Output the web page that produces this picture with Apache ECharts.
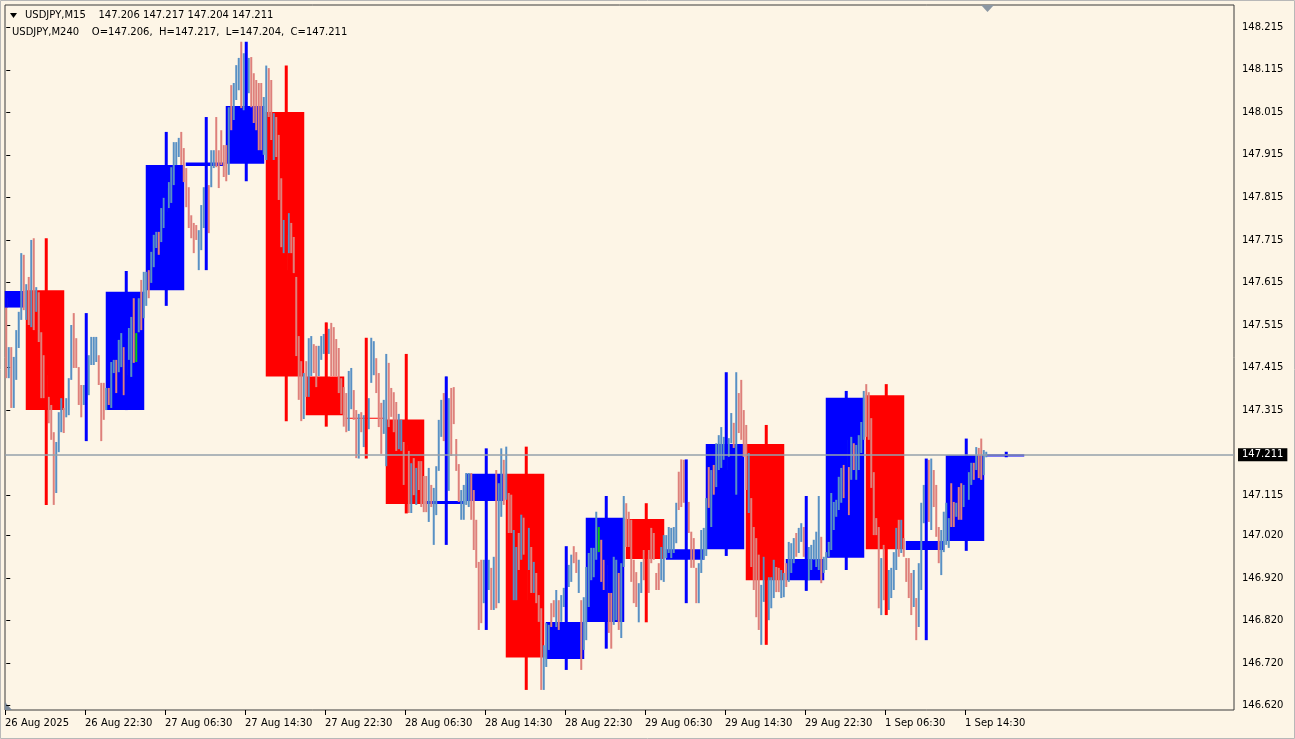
<!DOCTYPE html>
<html>
<head>
<meta charset="utf-8">
<script src="https://cdn.jsdelivr.net/npm/echarts@6.0.0/dist/echarts.min.js"></script>
<style>
html,body{margin:0;padding:0;background:#fdf5e6;}
#chart{width:1295px;height:739px;}
</style>
</head>
<body>
<div id="chart"></div>
<script>
// ---------------- DATA ----------------
// 4-hour (M240) candles, oldest first (first one is partly scrolled off the left edge)
const h4Open  = [147.556,147.597,147.315,147.315,147.597,147.889,147.894,148.016,147.394,147.297,147.293,147.094,147.101,147.165,146.730,146.817,147.059,146.963,146.988,147.235,146.915,146.968,147.350,146.986,147.007,147.206];
const h4High  = [147.595,147.719,147.543,147.642,147.969,148.004,148.181,148.125,147.521,147.485,147.447,147.394,147.225,147.229,146.995,147.113,147.096,147.199,147.404,147.280,147.113,147.360,147.376,147.201,147.248,147.217];
const h4Low   = [147.556,147.092,147.242,147.315,147.560,147.644,147.853,147.289,147.276,147.201,147.072,146.998,146.798,146.657,146.704,146.754,146.816,146.861,146.972,146.763,146.890,146.939,146.833,146.774,146.984,147.204];
const h4Close = [147.595,147.315,147.315,147.593,147.891,147.897,148.030,147.394,147.303,147.295,147.094,147.101,147.165,146.733,146.817,147.062,146.965,146.988,147.235,146.915,146.965,147.344,146.988,147.007,147.209,147.211];

// 15-minute (M15) bars, oldest first: highs, lows, direction (1 up, -1 down, 0 unchanged)
const m15High = [
147.578,147.463,147.463,147.440,147.503,147.546,147.684,147.680,
147.611,147.628,147.715,147.719,147.604,147.592,147.498,147.444,147.397,147.346,147.327,147.263,147.240,147.310,147.343,147.320,
147.343,147.390,147.515,147.543,147.484,147.416,147.374,147.374,147.409,147.444,147.487,147.487,147.487,147.444,147.379,147.379,
147.367,147.367,147.428,147.433,147.433,147.480,147.496,147.463,147.484,147.508,147.534,147.578,147.496,147.578,147.621,147.640,
147.640,147.644,147.687,147.727,147.734,147.734,147.790,147.814,147.837,147.851,147.886,147.945,147.945,147.955,147.969,147.931,
147.884,147.839,147.773,147.755,147.750,147.738,147.797,147.839,147.879,147.844,147.926,147.926,148.004,147.926,147.973,147.938,
147.938,148.027,148.079,148.084,148.126,148.143,148.181,148.154,148.138,148.143,148.145,148.107,148.091,148.084,148.084,148.051,
148.125,148.119,148.091,148.013,148.004,147.962,147.860,147.762,147.727,147.778,147.755,147.722,147.628,147.489,147.430,147.402,
147.430,147.484,147.489,147.470,147.466,147.466,147.489,147.494,147.521,147.506,147.520,147.510,147.482,147.461,147.390,147.369,
147.355,147.407,147.414,147.362,147.315,147.306,147.310,147.303,147.386,147.343,147.485,147.477,147.437,147.402,147.332,147.339,
147.447,147.426,147.367,147.357,147.334,147.306,147.292,147.240,147.233,147.219,147.190,147.202,147.179,147.195,147.195,147.160,
147.160,147.179,147.139,147.132,147.183,147.292,147.339,147.355,147.394,147.343,147.367,147.369,147.247,147.188,147.127,147.139,
147.167,147.167,147.167,147.127,147.057,146.958,146.963,146.963,147.010,146.963,146.944,146.970,147.174,147.143,147.225,147.198,
147.229,147.120,147.116,147.033,146.993,147.026,147.069,147.062,147.010,147.038,146.993,146.958,146.932,146.880,146.849,146.762,
146.814,146.810,146.861,146.868,146.892,146.868,146.880,146.897,146.963,146.951,146.975,146.995,146.981,146.963,146.868,146.875,
146.946,146.979,146.991,146.991,147.076,147.040,147.010,146.963,146.951,146.885,146.885,146.970,146.963,146.932,146.955,147.113,
147.096,147.076,147.057,146.963,146.934,146.908,146.958,146.986,146.975,146.986,147.038,147.026,146.932,146.955,146.993,147.021,
147.021,147.040,147.038,147.040,147.097,147.170,147.199,147.198,147.151,147.099,147.029,147.014,146.944,146.955,147.033,147.038,
147.108,147.181,147.174,147.186,147.237,147.256,147.275,147.252,147.292,147.249,147.308,147.285,147.404,147.355,147.386,147.315,
147.280,147.214,147.108,147.040,147.014,146.975,146.904,146.970,146.892,146.922,146.922,146.963,146.946,146.944,146.939,146.932,
146.955,147.005,147.002,147.014,147.026,147.038,147.049,147.040,147.010,146.993,146.998,147.010,147.029,147.113,147.017,146.970,
146.981,147.005,147.120,147.099,147.104,147.158,147.179,147.186,147.245,147.181,147.252,147.237,147.233,147.256,147.287,147.360,
147.376,147.357,147.296,147.169,147.061,147.040,146.967,146.998,146.963,146.939,146.944,146.981,147.038,147.057,147.057,147.014,
146.967,146.967,146.932,146.939,146.873,146.955,147.097,147.139,147.174,147.198,147.201,147.174,147.139,147.040,147.033,147.076,
147.097,147.061,147.143,147.099,147.097,147.134,147.143,147.139,147.174,147.169,147.191,147.191,147.228,147.226,147.248,147.221,
147.217];
const m15Low = [
147.390,147.390,147.320,147.320,147.386,147.461,147.527,147.550,
147.527,147.515,147.510,147.503,147.546,147.475,147.343,147.343,147.320,147.284,147.245,147.092,147.120,147.216,147.263,147.261,
147.298,147.303,147.386,147.414,147.414,147.327,147.298,147.327,147.339,147.350,147.421,147.421,147.428,147.374,147.242,147.292,
147.315,147.327,147.320,147.402,147.355,147.404,147.416,147.350,147.397,147.433,147.393,147.426,147.428,147.498,147.503,147.531,
147.560,147.578,147.614,147.651,147.696,147.680,147.710,147.743,147.781,147.790,147.802,147.844,147.891,147.910,147.891,147.851,
147.792,147.743,147.719,147.684,147.715,147.644,147.691,147.743,147.809,147.731,147.839,147.884,147.886,147.837,147.891,147.863,
147.853,147.868,147.973,147.997,148.044,148.067,148.025,148.020,148.044,148.060,148.027,147.990,147.973,147.926,147.926,147.915,
147.903,148.004,147.950,147.903,147.910,147.809,147.698,147.684,147.644,147.684,147.684,147.637,147.442,147.339,147.289,147.294,
147.346,147.346,147.395,147.402,147.369,147.395,147.433,147.447,147.433,147.447,147.395,147.395,147.395,147.355,147.306,147.276,
147.263,147.266,147.317,147.292,147.202,147.201,147.263,147.228,147.292,147.270,147.379,147.397,147.355,147.275,147.212,147.259,
147.183,147.275,147.299,147.263,147.219,147.223,147.219,147.139,147.103,147.073,147.073,147.115,147.092,147.127,147.087,147.075,
147.075,147.052,147.087,146.998,147.068,147.172,147.252,147.242,147.292,147.125,147.207,147.282,147.172,147.099,147.057,147.057,
147.092,147.087,147.057,146.986,146.944,146.798,146.814,146.861,146.892,146.892,146.845,146.845,146.849,146.861,147.064,147.092,
147.104,147.026,147.026,146.868,146.868,146.939,146.963,146.975,146.868,146.939,146.885,146.885,146.861,146.817,146.657,146.657,
146.711,146.751,146.805,146.828,146.805,146.798,146.817,146.852,146.868,146.899,146.911,146.955,146.932,146.885,146.704,146.751,
146.774,146.852,146.915,146.922,146.963,146.981,146.911,146.892,146.845,146.791,146.754,146.810,146.821,146.798,146.779,146.946,
146.993,146.993,146.911,146.861,146.852,146.816,146.885,146.915,146.892,146.885,146.955,146.963,146.892,146.892,146.915,146.911,
146.967,146.979,146.967,146.979,147.002,147.080,147.087,147.097,147.010,147.026,146.944,146.944,146.861,146.861,146.932,146.963,
146.972,147.085,147.040,147.116,147.134,147.174,147.179,147.198,147.174,147.205,147.237,147.226,147.116,147.261,147.245,147.205,
147.127,147.073,146.946,146.892,146.828,146.798,146.763,146.864,146.774,146.821,146.849,146.873,146.887,146.887,146.873,146.875,
146.899,146.911,146.932,146.955,146.970,146.979,147.005,146.970,146.890,146.915,146.939,146.963,146.946,146.939,146.908,146.932,
146.939,146.970,146.986,147.033,147.064,147.080,147.097,147.108,147.151,147.068,147.151,147.174,147.151,147.174,147.214,147.245,
147.252,147.245,147.132,147.021,147.021,146.849,146.833,146.868,146.868,146.845,146.873,146.892,146.939,146.970,146.979,146.970,
146.911,146.873,146.833,146.852,146.774,146.805,146.892,147.049,147.057,147.052,147.033,147.087,147.017,146.955,146.927,146.981,
146.998,146.991,147.040,147.040,147.064,147.057,147.057,147.087,147.104,147.104,147.139,147.151,147.174,147.155,147.151,147.162,
147.204];
const m15Dir = [
-1,1,-1,1,1,1,1,-1,
1,-1,1,-1,1,-1,-1,-1,-1,-1,-1,-1,1,1,1,-1,
1,1,1,-1,-1,-1,-1,1,1,1,1,1,1,-1,-1,-1,
1,-1,1,1,-1,1,1,-1,1,1,1,-1,0,1,-1,1,
1,-1,1,1,1,-1,1,1,1,1,1,1,1,1,-1,-1,
-1,-1,-1,-1,-1,1,1,1,1,-1,1,1,-1,-1,-1,-1,
-1,1,-1,1,1,1,-1,1,1,1,-1,-1,-1,-1,-1,1,
1,-1,-1,1,-1,-1,-1,1,-1,1,-1,-1,-1,-1,-1,1,
-1,1,1,-1,-1,1,1,1,-1,1,-1,-1,-1,-1,-1,-1,
-1,1,1,-1,-1,1,-1,1,1,1,1,1,-1,-1,-1,1,
1,-1,-1,-1,-1,1,1,-1,-1,-1,1,-1,1,-1,-1,-1,
-1,1,-1,1,1,1,1,-1,1,1,-1,-1,-1,-1,1,1,
1,1,-1,-1,-1,-1,-1,1,1,1,-1,1,-1,1,1,-1,
1,-1,-1,1,1,-1,1,-1,-1,1,-1,1,-1,-1,-1,1,
1,1,-1,-1,1,-1,1,1,1,1,1,-1,-1,1,-1,1,
1,1,1,1,1,0,-1,-1,-1,-1,-1,1,1,-1,1,1,
-1,-1,-1,-1,-1,1,1,-1,-1,-1,-1,-1,-1,-1,1,1,
1,1,1,1,1,-1,-1,-1,1,-1,-1,-1,-1,1,1,1,
1,-1,1,-1,1,1,1,1,1,1,1,-1,1,-1,-1,-1,
-1,1,-1,-1,-1,-1,1,1,-1,1,1,1,-1,-1,1,1,
-1,1,1,1,-1,1,1,-1,1,1,1,1,1,1,-1,1,
1,1,1,1,1,1,1,-1,1,-1,1,-1,1,1,1,1,
-1,-1,-1,-1,-1,-1,1,-1,-1,1,1,1,1,-1,1,-1,
-1,-1,-1,1,-1,1,1,1,1,-1,1,-1,-1,-1,1,1,
1,1,-1,-1,1,-1,-1,1,1,1,1,-1,1,-1,-1,1,
1];

const lastPrice = 147.211;
const headerM15 = 'USDJPY,M15    147.206 147.217 147.204 147.211';
const headerM240 = 'USDJPY,M240    O=147.206,  H=147.217,  L=147.204,  C=147.211';

// time-axis labels and the M15 bar each one sits on
const xTickLabels = ['26 Aug 2025','26 Aug 22:30','27 Aug 06:30','27 Aug 14:30','27 Aug 22:30','28 Aug 06:30','28 Aug 14:30','28 Aug 22:30','29 Aug 06:30','29 Aug 14:30','29 Aug 22:30','1 Sep 06:30','1 Sep 14:30'];
const xTickBars = [0,32,64,96,128,160,192,224,256,288,320,352,384];
// price-axis labels
const yTickLabels = ['148.215','148.115','148.015','147.915','147.815','147.715','147.615','147.515','147.415','147.315','147.115','147.020','146.920','146.820','146.720','146.620'];

// ---------------- CHART ----------------
const BARS_PER_H4 = 16;       // 16 x 15 min = 4 h
const FIRST_H4_START = -8;    // first 4h candle begins 8 bars before the left edge
const UP = '#0000ff', DOWN = '#ff0000';
const M15_UP = '#5890c4', M15_DOWN = '#de807b', M15_FLAT = '#10c810';
const FONT = 'DejaVu Sans';

const m15Data = m15High.map((h, i) => [i, h, m15Low[i], m15Dir[i]]);
const h4Data = h4Open.map((o, k) => [k, o, h4High[k], h4Low[k], h4Close[k]]);
const xTickValues = xTickBars.map(b => b - 0.5);
const yTickValues = yTickLabels.map(Number);

const chart = echarts.init(document.getElementById('chart'));

function bodyItem(params, api) {
  const k = api.value(0), o = api.value(1), c = api.value(4);
  if (o === c) return {type: 'group', children: []};
  const start = FIRST_H4_START + k * BARS_PER_H4;
  const cs = params.coordSys;
  const a = api.coord([start - 0.2, o]);
  const b = api.coord([start + BARS_PER_H4 - 1 + 0.2, c]);
  const x0 = Math.max(a[0], cs.x), x1 = Math.min(b[0], cs.x + cs.width);
  const y0 = Math.min(a[1], b[1]);
  const h = Math.max(1, Math.abs(a[1] - b[1]));
  return {type: 'rect', shape: {x: x0, y: y0, width: x1 - x0, height: h},
          style: {fill: c > o ? UP : DOWN}};
}
function wickItem(params, api) {
  const k = api.value(0), o = api.value(1), hi = api.value(2), lo = api.value(3), c = api.value(4);
  const start = FIRST_H4_START + k * BARS_PER_H4;
  const p1 = api.coord([start + BARS_PER_H4 / 2, hi]);
  const p2 = api.coord([start + BARS_PER_H4 / 2, lo]);
  const cs = params.coordSys;
  if (p1[0] < cs.x || p1[0] > cs.x + cs.width) return {type: 'group', children: []};
  return {type: 'rect', shape: {x: p1[0] - 1.5, y: p1[1], width: 3, height: Math.max(1, p2[1] - p1[1])},
          style: {fill: c >= o ? UP : DOWN}};
}
function m15Item(params, api) {
  const i = api.value(0), hi = api.value(1), lo = api.value(2), d = api.value(3);
  const p1 = api.coord([i, hi]), p2 = api.coord([i, lo]);
  return {type: 'rect', shape: {x: p1[0] - 1, y: p1[1], width: 2, height: Math.max(1, p2[1] - p1[1])},
          style: {fill: d > 0 ? M15_UP : (d < 0 ? M15_DOWN : M15_FLAT)}};
}

const textBase = {fontFamily: FONT, fontSize: 10, fontWeight: 'normal', color: '#000'};

chart.setOption({
  backgroundColor: '#fdf5e6',
  animation: false,
  textStyle: {fontFamily: FONT},
  title: [
    {text: headerM15, left: 25, top: 10, padding: 0, textStyle: textBase},
    {text: headerM240, left: 12, top: 27, padding: 0, textStyle: textBase}
  ],
  grid: {left: 5, right: 61, top: 5, bottom: 29, show: true, borderColor: '#3a3a3a', borderWidth: 1},
  xAxis: {
    type: 'value', min: -0.5, max: 491.1,
    axisLine: {show: false}, splitLine: {show: false},
    axisTick: {show: true, customValues: xTickValues, length: 5, lineStyle: {color: '#000'}},
    axisLabel: {
      customValues: xTickValues, align: 'left', margin: 8,
      fontFamily: FONT, fontSize: 10, color: '#000',
      formatter: v => { const k = xTickValues.findIndex(t => Math.abs(t - v) < 1e-6); return k >= 0 ? xTickLabels[k] : ''; }
    }
  },
  yAxis: {
    type: 'value', position: 'right', min: 146.6098, max: 148.2674,
    axisLine: {show: false}, splitLine: {show: false},
    axisTick: {show: true, customValues: yTickValues, length: 4, lineStyle: {color: '#000'}},
    axisLabel: {
      customValues: yTickValues, margin: 8,
      fontFamily: FONT, fontSize: 10, color: '#000',
      formatter: v => { const k = yTickValues.findIndex(t => Math.abs(t - v) < 1e-6); return k >= 0 ? yTickLabels[k] : ''; }
    }
  },
  series: [
    {type: 'custom', name: 'H4 body', z: 2, data: h4Data, renderItem: bodyItem, encode: {x: 0, y: [1, 4]}, silent: true},
    {type: 'custom', name: 'M15', z: 3, data: m15Data, renderItem: m15Item, encode: {x: 0, y: [1, 2]}, silent: true},
    {type: 'custom', name: 'H4 wick', z: 4, data: h4Data, renderItem: wickItem, encode: {x: 0, y: [2, 3]}, silent: true,
     markLine: {
       silent: true, symbol: ['none', 'none'], animation: false,
       data: [{yAxis: lastPrice}],
       lineStyle: {color: '#95a0ab', width: 1.5, type: 'solid'},
       label: {show: true, position: 'end', distance: 4, formatter: lastPrice.toFixed(3),
               color: '#fff', backgroundColor: '#000', padding: [2, 4, 1, 4], fontFamily: FONT, fontSize: 10},
       emphasis: {disabled: true}
     }}
  ],
  graphic: [
    {type: 'rect', shape: {x: 0.5, y: 0.5, width: 1294, height: 738}, style: {fill: 'none', stroke: '#b8b8b8', lineWidth: 1}, silent: true},
    {type: 'polygon', shape: {points: [[10, 13], [17, 13], [13.5, 18]]}, style: {fill: '#000'}, silent: true},
    {type: 'polygon', shape: {points: [[981, 5], [994, 5], [987.5, 12]]}, style: {fill: '#8c97a3'}, silent: true},
    {type: 'polygon', shape: {points: [[5, 702], [12, 710], [5, 710]]}, style: {fill: '#7c8a9a'}, silent: true}
  ]
});
</script>
</body>
</html>
